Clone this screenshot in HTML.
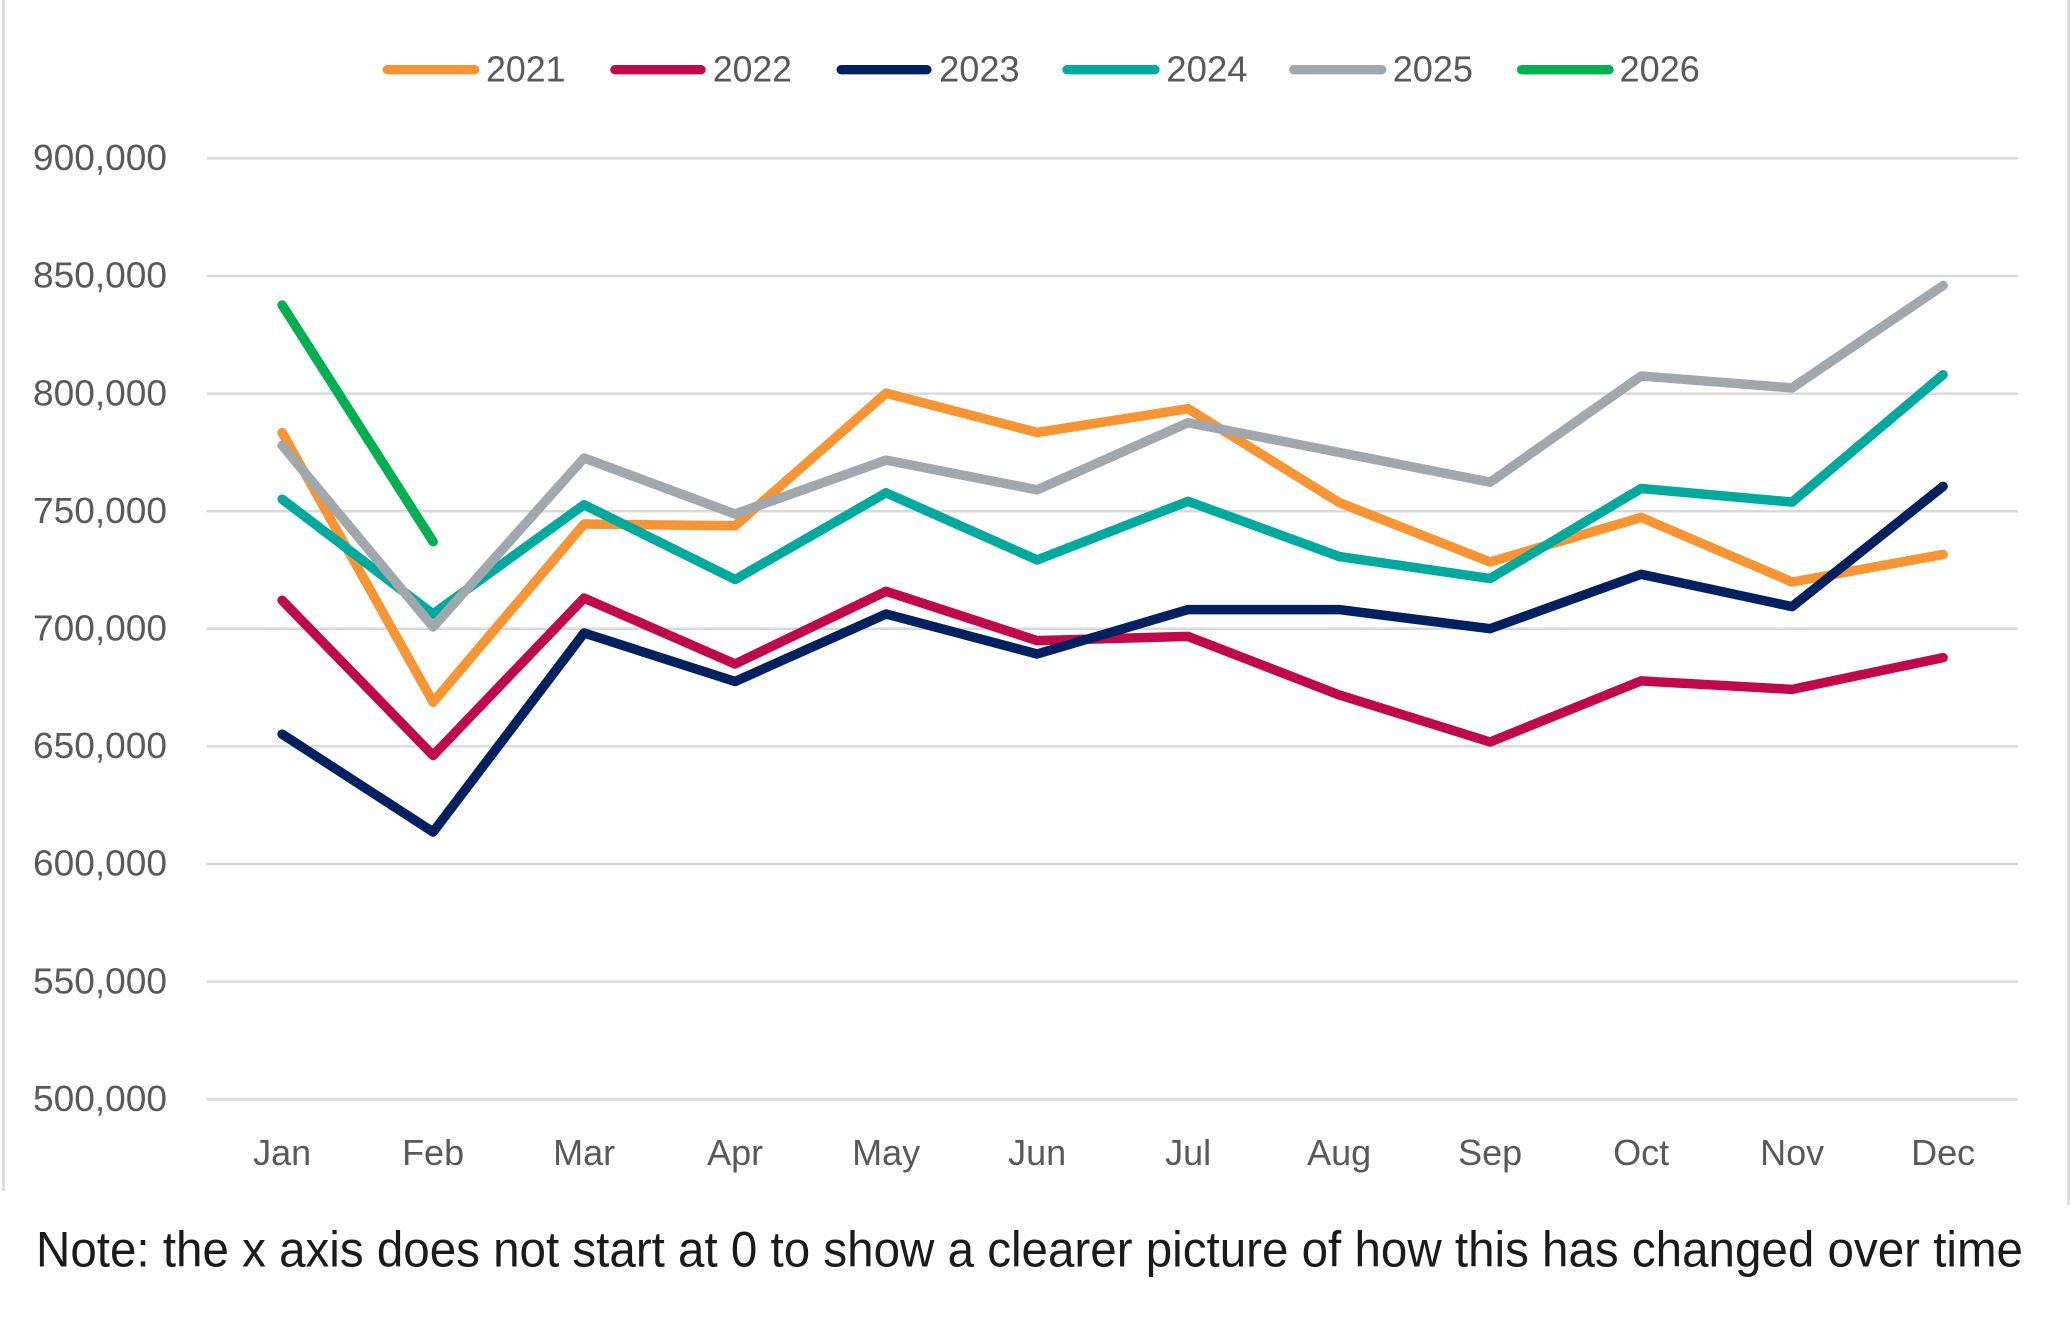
<!DOCTYPE html>
<html>
<head>
<meta charset="utf-8">
<style>
  html,body{margin:0;padding:0;background:#fff;}
  body{width:2071px;height:1333px;overflow:hidden;}
  svg{display:block;}
  text{font-family:"Liberation Sans", Arial, sans-serif;}
</style>
</head>
<body>
<svg width="2071" height="1333" viewBox="0 0 2071 1333" xmlns="http://www.w3.org/2000/svg">
  <rect x="0" y="0" width="2071" height="1333" fill="#ffffff"/>
  <!-- chart frame sides -->
  <line x1="3.5" y1="0" x2="3.5" y2="1191" stroke="#d9d9d9" stroke-width="2.5"/>
  <line x1="2068.5" y1="0" x2="2068.5" y2="1205" stroke="#d9d9d9" stroke-width="2.5"/>

  <!-- gridlines -->
  <g stroke="#d9d9d9" stroke-width="2.5">
    <line x1="206.6" y1="158.4" x2="2018" y2="158.4"/>
    <line x1="206.6" y1="276.0" x2="2018" y2="276.0"/>
    <line x1="206.6" y1="393.6" x2="2018" y2="393.6"/>
    <line x1="206.6" y1="511.2" x2="2018" y2="511.2"/>
    <line x1="206.6" y1="628.8" x2="2018" y2="628.8"/>
    <line x1="206.6" y1="746.4" x2="2018" y2="746.4"/>
    <line x1="206.6" y1="864.0" x2="2018" y2="864.0"/>
    <line x1="206.6" y1="981.6" x2="2018" y2="981.6"/>
    <line x1="206.6" y1="1099.4" x2="2018" y2="1099.4"/>
  </g>

  <!-- y axis labels -->
  <g fill="#595959" font-size="36" text-anchor="end">
    <text x="167" y="170.1" textLength="134" lengthAdjust="spacingAndGlyphs">900,000</text>
    <text x="167" y="287.7" textLength="134" lengthAdjust="spacingAndGlyphs">850,000</text>
    <text x="167" y="405.3" textLength="134" lengthAdjust="spacingAndGlyphs">800,000</text>
    <text x="167" y="522.9" textLength="134" lengthAdjust="spacingAndGlyphs">750,000</text>
    <text x="167" y="640.5" textLength="134" lengthAdjust="spacingAndGlyphs">700,000</text>
    <text x="167" y="758.1" textLength="134" lengthAdjust="spacingAndGlyphs">650,000</text>
    <text x="167" y="875.7" textLength="134" lengthAdjust="spacingAndGlyphs">600,000</text>
    <text x="167" y="993.3" textLength="134" lengthAdjust="spacingAndGlyphs">550,000</text>
    <text x="167" y="1111.1" textLength="134" lengthAdjust="spacingAndGlyphs">500,000</text>
  </g>

  <!-- x axis labels -->
  <g fill="#595959" font-size="36" text-anchor="middle">
    <text x="282.1" y="1165">Jan</text>
    <text x="433.1" y="1165">Feb</text>
    <text x="584.1" y="1165">Mar</text>
    <text x="735.1" y="1165">Apr</text>
    <text x="886.1" y="1165">May</text>
    <text x="1037.1" y="1165">Jun</text>
    <text x="1188.1" y="1165">Jul</text>
    <text x="1339.1" y="1165">Aug</text>
    <text x="1490.1" y="1165">Sep</text>
    <text x="1641.1" y="1165">Oct</text>
    <text x="1792.1" y="1165">Nov</text>
    <text x="1943.1" y="1165">Dec</text>
  </g>

  <!-- series -->
  <g fill="none" stroke-width="9.5" stroke-linecap="round" stroke-linejoin="round">
    <!-- 2021 -->
    <polyline stroke="#F79433" points="282.1,432.6 433.1,702.2 584.1,524.0 735.1,525.8 886.1,393.2 1037.1,432.5 1188.1,408.7 1339.1,502.5 1490.1,562.0 1641.1,517.4 1792.1,582.0 1943.1,554.4"/>
    <!-- 2022 -->
    <polyline stroke="#C0094A" points="282.1,600.3 433.1,755.5 584.1,598.1 735.1,664.0 886.1,591.3 1037.1,640.6 1188.1,636.4 1339.1,694.9 1490.1,742.0 1641.1,680.9 1792.1,689.4 1943.1,657.6"/>
    <!-- 2023 -->
    <polyline stroke="#002060" points="282.1,734.1 433.1,832.0 584.1,633.0 735.1,681.5 886.1,614.0 1037.1,654.0 1188.1,609.6 1339.1,609.6 1490.1,628.7 1641.1,574.3 1792.1,606.6 1943.1,486.4"/>
    <!-- 2024 -->
    <polyline stroke="#00A99D" points="282.1,499.2 433.1,614.0 584.1,504.7 735.1,579.5 886.1,492.8 1037.1,559.9 1188.1,501.3 1339.1,556.5 1490.1,578.6 1641.1,488.5 1792.1,502.1 1943.1,374.7"/>
    <!-- 2025 -->
    <polyline stroke="#A0A7AD" points="282.1,445.4 433.1,627.0 584.1,458.0 735.1,514.0 886.1,460.1 1037.1,489.8 1188.1,422.7 1339.1,452.4 1490.1,482.2 1641.1,376.0 1792.1,387.9 1943.1,285.5"/>
    <!-- 2026 -->
    <polyline stroke="#00B050" points="282.1,305.0 433.1,541.7"/>
  </g>

  <!-- legend -->
  <g stroke-width="9.3" stroke-linecap="round">
    <line x1="387.2" y1="69.7" x2="474.7" y2="69.7" stroke="#F79433"/>
    <line x1="614.9" y1="69.7" x2="701.0" y2="69.7" stroke="#C0094A"/>
    <line x1="841.2" y1="69.7" x2="926.9" y2="69.7" stroke="#002060"/>
    <line x1="1067.0" y1="69.7" x2="1154.9" y2="69.7" stroke="#00A99D"/>
    <line x1="1293.8" y1="69.7" x2="1381.7" y2="69.7" stroke="#A0A7AD"/>
    <line x1="1521.5" y1="69.7" x2="1609.0" y2="69.7" stroke="#00B050"/>
  </g>
  <g fill="#595959" font-size="36">
    <text x="486" y="81.7" textLength="79.5" lengthAdjust="spacingAndGlyphs">2021</text>
    <text x="712.9" y="81.7" textLength="79" lengthAdjust="spacingAndGlyphs">2022</text>
    <text x="939.2" y="81.7" textLength="80.4" lengthAdjust="spacingAndGlyphs">2023</text>
    <text x="1166.3" y="81.7" textLength="81.3" lengthAdjust="spacingAndGlyphs">2024</text>
    <text x="1392.7" y="81.7" textLength="80.3" lengthAdjust="spacingAndGlyphs">2025</text>
    <text x="1619.5" y="81.7" textLength="80.3" lengthAdjust="spacingAndGlyphs">2026</text>
  </g>

  <!-- note -->
  <text x="36" y="1266.7" font-size="50" fill="#1a1a1a" textLength="1987" lengthAdjust="spacingAndGlyphs">Note: the x axis does not start at 0 to show a clearer picture of how this has changed over time</text>
</svg>
</body>
</html>
